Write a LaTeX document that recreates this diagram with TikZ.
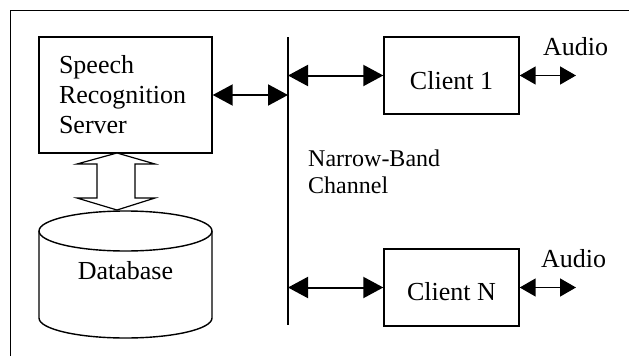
\documentclass[tikz,border=0pt]{standalone}
\usepackage{fontspec}
\setmainfont{Liberation Serif}
\usetikzlibrary{arrows.meta}
\begin{document}
\begin{tikzpicture}[x=1pt,y=-1pt,
  boxstyle/.style={draw,line width=1.4pt,inner sep=0pt},
  bigtxt/.style={font=\fontsize{26}{30}\selectfont},
  midtxt/.style={font=\fontsize{24}{27}\selectfont},
  busarrow/.style={line width=2pt,{Triangle[length=20pt,width=21pt]}-{Triangle[length=20pt,width=21pt]}},
  audioarrow/.style={line width=1.5pt,{Triangle[length=16pt,width=18pt]}-{Triangle[length=16pt,width=18pt]}}]
\useasboundingbox (0,0) rectangle (629,356);
% frame
\draw[line width=1pt] (10,356) -- (10,10) -- (629,10);
% server
\node[boxstyle,bigtxt,minimum width=173pt,minimum height=116pt,align=left,text width=133pt] (server) at (125.5,95) {Speech\\Recognition\\Server};
% bus
\coordinate (bt) at (288,37);
\coordinate (bb) at (288,325);
\draw[line width=2pt] (bt) -- (bb);
% clients
\node[boxstyle,bigtxt,minimum width=135pt,minimum height=77pt,text height=27pt,text depth=0pt] (c1) at (451.5,75.5) {Client 1};
\node[boxstyle,bigtxt,minimum width=135pt,minimum height=77pt,text height=26pt,text depth=0pt] (cn) at (451.5,287.5) {Client N};
% arrows
\draw[busarrow] (server.east) -- (server.east -| bt);
\draw[busarrow] (c1.west -| bt) -- (c1.west);
\draw[busarrow] (cn.west -| bt) -- (cn.west);
% audio
\coordinate (a1) at (576,75.5);
\coordinate (an) at (576,287.5);
\draw[audioarrow] (c1.east) -- (a1);
\draw[audioarrow] (cn.east) -- (an);
\node[bigtxt,anchor=base west,inner sep=0pt] (al1) at (543,55) {Audio};
\node[bigtxt,anchor=base west,inner sep=0pt] (aln) at (541,267) {Audio};
% channel label
\node[midtxt,anchor=base west,inner sep=0pt] (nb) at (308,166) {Narrow-Band};
\node[midtxt,anchor=base west,inner sep=0pt] (ch) at (308,193) {Channel};
% database
\draw[line width=1.4pt] (125.5,231) ellipse [x radius=86.5pt, y radius=20pt];
\draw[line width=1.4pt] (39,231) -- (39,318) arc[start angle=180,end angle=360,x radius=86.5pt,y radius=20pt] -- (212,231);
\node[bigtxt,anchor=base,inner sep=0pt] (db) at (125.5,279) {Database};
% hollow double arrow
\draw[line width=1.2pt,fill=white] (117,153) -- (155,164) -- (135,164) -- (135,198) -- (155,198) -- (117,210) -- (77,198) -- (97,198) -- (97,164) -- (77,164) -- cycle;
\end{tikzpicture}
\end{document}
